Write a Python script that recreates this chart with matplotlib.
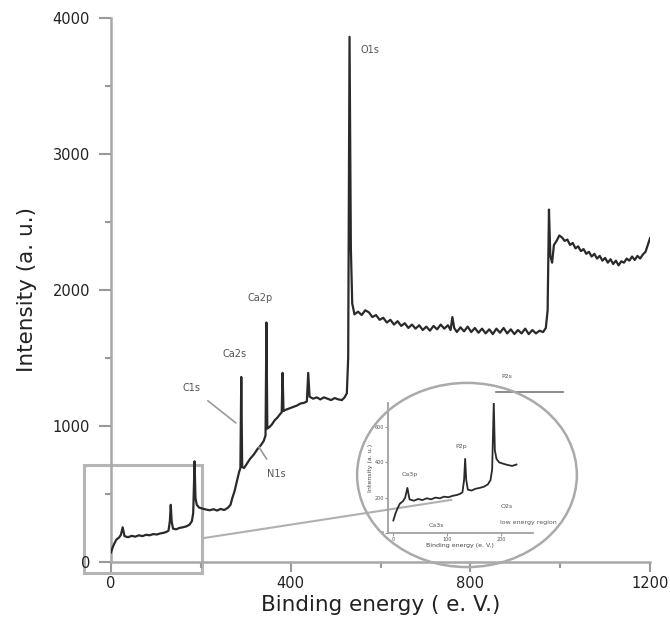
import matplotlib
matplotlib.use('Agg')
import matplotlib.pyplot as plt
from matplotlib.patches import Rectangle, Ellipse

# XPS survey spectrum (binding energy in eV, intensity in a. u.)
energy = [0, 4, 8, 12, 18, 22, 26, 30, 38, 46, 54, 62, 70, 78, 86, 94, 102, 110, 118, 124, 128,
          131, 133, 135, 138, 145, 152, 160, 168, 175, 180, 183, 186, 188, 191, 196, 204, 212, 220,
          228, 236, 244, 252, 260, 266, 270, 275, 280, 285, 288, 290, 292, 296, 302, 310, 318, 326,
          334, 340, 344, 346, 348, 352, 358, 364, 370, 376, 380, 382, 384, 390, 398, 406, 414, 422,
          430, 436, 439, 442, 450, 458, 466, 474, 482, 490, 498, 506, 514, 520, 525, 528, 531, 534,
          537, 542, 550, 558, 566, 574, 582, 590, 598, 606, 614, 622, 630, 638, 646, 654, 662, 670,
          678, 686, 694, 702, 710, 718, 726, 734, 742, 750, 756, 760, 764, 770, 778, 786, 794, 802,
          810, 818, 826, 834, 842, 850, 858, 866, 874, 882, 890, 898, 906, 914, 922, 930, 938, 946,
          954, 962, 968, 972, 975, 978, 982, 986, 992, 998, 1004, 1010, 1016, 1022, 1028, 1034, 1040,
          1046, 1052, 1058, 1064, 1070, 1076, 1082, 1088, 1094, 1100, 1106, 1112, 1118, 1124, 1130,
          1136, 1142, 1148, 1154, 1160, 1166, 1172, 1178, 1184, 1190, 1195, 1200]
intensity = [70, 110, 140, 165, 180, 200, 255, 190, 182, 192, 186, 196, 190, 200, 196, 205, 202, 210, 215, 222, 230,
             300, 420, 300, 245, 240, 250, 255, 262, 275, 300, 360, 740, 470, 420, 400, 392, 385, 380,
             388, 378, 390, 382, 398, 420, 470, 520, 590, 660, 690, 1360, 700, 690, 720, 760, 790, 830,
             860, 890, 930, 1760, 980, 990, 1010, 1040, 1060, 1085, 1100, 1390, 1110, 1120, 1130, 1140, 1150, 1165,
             1170, 1180, 1390, 1215, 1200, 1210, 1195, 1210, 1200, 1190, 1205, 1195, 1190, 1210, 1240, 1500, 3860, 2300,
             1900, 1820, 1840, 1815, 1850, 1835, 1800, 1815, 1780, 1795, 1760, 1780, 1745, 1770, 1735, 1755, 1720, 1745,
             1715, 1740, 1705, 1730, 1700, 1735, 1710, 1745, 1715, 1740, 1705, 1800, 1720, 1690, 1725, 1695, 1730, 1690,
             1720, 1685, 1715, 1680, 1710, 1675, 1715, 1685, 1720, 1680, 1710, 1675, 1705, 1680, 1715, 1675, 1705, 1680,
             1700, 1690, 1720, 1850, 2590, 2250, 2200, 2330, 2360, 2400, 2385, 2360, 2370, 2330, 2345, 2305, 2320,
             2285, 2300, 2265, 2280, 2245, 2265, 2230, 2250, 2215, 2235, 2200, 2225, 2190, 2215, 2180,
             2210, 2200, 2230, 2215, 2245, 2220, 2250, 2230, 2260, 2280, 2330, 2380]

# peak labels: (text, label position, leader end or None)
peak_labels = [('C1s', (179, 1280), (278, 1022)),
               ('Ca2s', (274, 1530), None),
               ('Ca2p', (333, 1941), None),
               ('N1s', (368, 647), (329, 846)),
               ('O1s', (576, 3765), None)]
inset_labels = [('Ca3p', (30, 330)), ('Ca3s', (80, 40)), ('P2p', (125, 490)),
                ('P2s', (210, 890)), ('O2s', (210, 150)), ('low energy region', (250, 60))]

inset_max = 232

fig = plt.figure(figsize=(6.7, 6.35), dpi=100)
ax = fig.add_axes([0.1657, 0.115, 0.8045, 0.857])

ax.plot(energy, intensity, color='#2a2a2a', lw=1.6, zorder=3)
ax.set_xlim(0, 1200)
ax.set_ylim(0, 4000)
ax.set_xticks([0, 400, 800, 1200])
ax.set_xticks([200, 600, 1000], minor=True)
ax.set_yticks([0, 1000, 2000, 3000, 4000])
ax.set_yticks([500, 1500, 2500, 3500], minor=True)
ax.tick_params(which='major', direction='out', width=1.5, color='#999999',
               labelsize=10.5, labelcolor='#222222')
ax.tick_params(axis='y', which='major', length=9, pad=6)
ax.tick_params(axis='x', which='major', length=7, pad=3)
ax.tick_params(which='minor', direction='out', length=4, width=1.5, color='#999999')
for s in ['top', 'right']:
    ax.spines[s].set_visible(False)
for s in ['left', 'bottom']:
    ax.spines[s].set_color('#a8a8a8')
    ax.spines[s].set_linewidth(1.8)
ax.set_xlabel('Binding energy ( e. V.)', fontsize=15.5, color='#222222', labelpad=3)
ax.set_ylabel('Intensity (a. u.)', fontsize=15.5, color='#222222', labelpad=11)

for txt, pos, end in peak_labels:
    if end is None:
        ax.text(pos[0], pos[1], txt, fontsize=7, color='#555555', ha='center', va='center')
    else:
        ax.annotate(txt, xy=end, xytext=pos, fontsize=7, color='#555555', ha='center', va='center',
                    arrowprops=dict(arrowstyle='-', color='#999999', lw=1.2, shrinkA=6, shrinkB=0))

# zoom box, connector and circle
box = Rectangle((-60, -80), 263, 793, fill=False, ec='#b5b5b5', lw=2.2, clip_on=False, zorder=1.2)
ax.add_patch(box)
ax.plot([207, 757], [176, 456], color='#b0b0b0', lw=1.5, clip_on=False, zorder=2)
fig.add_artist(Ellipse((0.697, 0.252), 0.328, 0.290, transform=fig.transFigure,
                       fill=False, ec='#aaaaaa', lw=1.8))

# inset with the low energy part
ix = [e for e in energy if e <= inset_max]
iy = intensity[:len(ix)]
ins = fig.add_axes([0.579, 0.161, 0.216, 0.205])
ins.patch.set_alpha(0)
ins.plot(ix, iy, color='#2a2a2a', lw=1.3)
ins.set_xlim(-10, 258)
ins.set_ylim(0, 740)
ins.set_xticks([0, 100, 200])
ins.set_yticks([0, 200, 400, 600])
ins.tick_params(direction='out', length=2, width=0.8, color='#999999', labelsize=3.5,
                labelcolor='#555555', pad=1)
for s in ['top', 'right']:
    ins.spines[s].set_visible(False)
for s in ['left', 'bottom']:
    ins.spines[s].set_color('#a0a0a0')
    ins.spines[s].set_linewidth(1.3)
ins.set_xlabel('Binding energy (e. V.)', fontsize=4.5, color='#444444', labelpad=1)
ins.set_ylabel('Intensity (a. u.)', fontsize=4.5, color='#444444', labelpad=1)
for txt, pos in inset_labels:
    ins.text(pos[0], pos[1], txt, fontsize=4.5, color='#555555', ha='center', va='center')
ins.plot([190, 315], [800, 800], color='#777777', lw=1.2, clip_on=False)

fig.savefig('out.png', dpi=100, facecolor='w')
plt.close()
